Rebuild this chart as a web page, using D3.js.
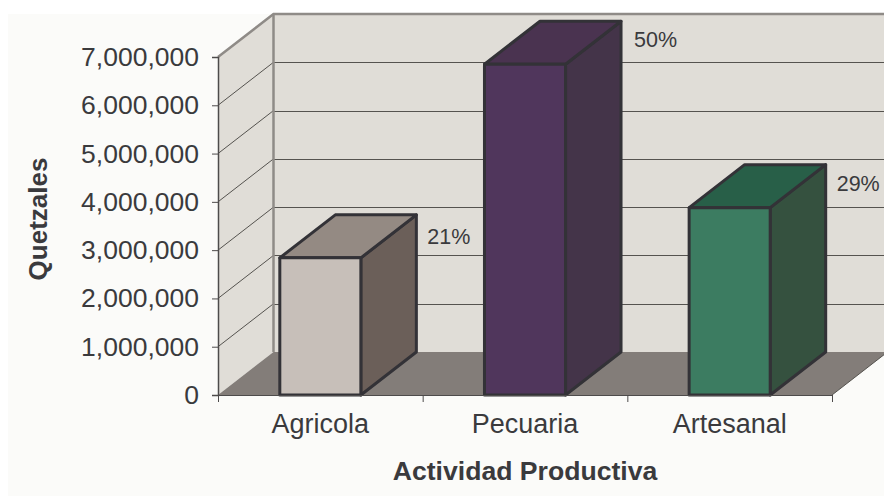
<!DOCTYPE html>
<html>
<head>
<meta charset="utf-8">
<script src="https://cdnjs.cloudflare.com/ajax/libs/d3/7.8.5/d3.min.js"></script>
<style>
html, body { margin: 0; padding: 0; background: #fff; }
svg { display: block; }
text { font-family: "Liberation Sans", Arial, sans-serif; fill: #3a3a3d; }
</style>
</head>
<body>
<div id="chart"></div>
<script>
const categories = ["Agricola", "Pecuaria", "Artesanal"];
const values = [2840000, 6850000, 3880000];
const shares = ["21%", "50%", "29%"];
const yTicks = [0, 1000000, 2000000, 3000000, 4000000, 5000000, 6000000, 7000000];
const frontColors = ["#c7bfb9", "#50365c", "#3c7c61"];
const topColors = ["#948a83", "#4a3350", "#285f48"];
const sideColors = ["#6b5f59", "#443449", "#35513f"];
const shareDx = [11, 13, 11];
const shareDy = [29, 26, 26];

const width = 884, height = 497;
const depthX = 55.5, depthY = -43;

const svg = d3.select("#chart")
  .append("svg")
    .attr("width", width)
    .attr("height", height);

svg.append("rect")
    .attr("x", 8)
    .attr("y", 14)
    .attr("width", width - 8)
    .attr("height", height - 15)
    .attr("fill", "#fbfbf9");

const x = d3.scaleBand()
  .domain(categories)
  .range([218, 832])
  .paddingInner(0.604)
  .paddingOuter(0.302);

const xEdges = d3.scaleLinear()
  .domain([0, categories.length])
  .range([218, 832]);

const y = d3.scaleLinear()
  .domain([0, 7000000])
  .range([395, 57]);

const poly = pts => pts.map(p => p.join(",")).join(" ");
const x0 = xEdges(0), x1 = xEdges(3), yBase = y(0), yTop = y(7000000);

// walls and floor
svg.append("polygon")
    .attr("points", poly([[x0, yBase], [x0, yTop], [x0 + depthX, yTop + depthY], [x0 + depthX, yBase + depthY]]))
    .attr("fill", "#e0ddd7");
svg.append("polygon")
    .attr("points", poly([[x0 + depthX, yBase + depthY], [x0 + depthX, yTop + depthY], [x1 + depthX, yTop + depthY], [x1 + depthX, yBase + depthY]]))
    .attr("fill", "#e0ddd7");
svg.append("polygon")
    .attr("points", poly([[x0, yBase], [x0 + depthX, yBase + depthY], [x1 + depthX, yBase + depthY], [x1, yBase]]))
    .attr("fill", "#837d79");
svg.append("line")
    .attr("x1", x1)
    .attr("x2", x1 + depthX)
    .attr("y1", yBase)
    .attr("y2", yBase + depthY)
    .attr("stroke", "#55534f");

// gridlines
const gridTicks = yTicks.filter(d => d > 0 && d < 7000000);
svg.selectAll(".grid-back")
  .data(gridTicks)
  .join("line")
    .attr("x1", x0 + depthX)
    .attr("x2", x1 + depthX)
    .attr("y1", d => Math.round(y(d) + depthY) + 0.5)
    .attr("y2", d => Math.round(y(d) + depthY) + 0.5)
    .attr("stroke", "#55534f");
svg.selectAll(".grid-side")
  .data(gridTicks)
  .join("line")
    .attr("x1", x0)
    .attr("x2", x0 + depthX)
    .attr("y1", d => y(d))
    .attr("y2", d => y(d) + depthY)
    .attr("stroke", "#55534f");

// wall edges
svg.append("polyline")
    .attr("points", poly([[x0, yTop], [x0 + depthX, yTop + depthY], [x1 + depthX, yTop + depthY]]))
    .attr("fill", "none")
    .attr("stroke", "#8f8b87")
    .attr("stroke-width", 2.5);
svg.append("line")
    .attr("x1", x0 + depthX)
    .attr("x2", x0 + depthX)
    .attr("y1", yTop + depthY)
    .attr("y2", yBase + depthY)
    .attr("stroke", "#8f8b87")
    .attr("stroke-width", 2.5);

// bars
const bars = svg.selectAll(".bar")
  .data(categories)
  .join("g")
    .attr("stroke", "#333237")
    .attr("stroke-width", 3)
    .attr("stroke-linejoin", "round");

bars.append("polygon")
    .attr("points", (d, i) => {
      const r = x(d) + x.bandwidth();
      return poly([[r, yBase], [r, y(values[i])], [r + depthX, y(values[i]) + depthY], [r + depthX, yBase + depthY]]);
    })
    .attr("fill", (d, i) => sideColors[i]);
bars.append("polygon")
    .attr("points", (d, i) => {
      const l = x(d), r = l + x.bandwidth(), t = y(values[i]);
      return poly([[l, t], [l + depthX, t + depthY], [r + depthX, t + depthY], [r, t]]);
    })
    .attr("fill", (d, i) => topColors[i]);
bars.append("rect")
    .attr("x", d => x(d))
    .attr("y", (d, i) => y(values[i]))
    .attr("width", x.bandwidth())
    .attr("height", (d, i) => yBase - y(values[i]))
    .attr("fill", (d, i) => frontColors[i]);

// share labels
svg.selectAll(".share")
  .data(categories)
  .join("text")
    .attr("x", (d, i) => x(d) + x.bandwidth() + depthX + shareDx[i])
    .attr("y", (d, i) => y(values[i]) + depthY + shareDy[i])
    .style("font-size", "21.5px")
    .text((d, i) => shares[i]);

// axes
const yAxis = svg.append("g")
    .attr("transform", `translate(${x0},0)`)
    .call(d3.axisLeft(y).tickValues(yTicks).tickSize(6).tickPadding(13).tickFormat(d3.format(",")));
yAxis.selectAll("text").style("font-size", "26.5px");

const xTicks = svg.append("g")
    .attr("transform", `translate(0,${yBase})`)
    .call(d3.axisBottom(xEdges).tickValues([0, 1, 2, 3]).tickSize(7).tickFormat(""));

const xAxis = svg.append("g")
    .attr("transform", `translate(0,${yBase})`)
    .call(d3.axisBottom(x).tickSize(0).tickPadding(19));
xAxis.select(".domain").remove();
xAxis.selectAll("text").style("font-size", "27px");

[yAxis, xTicks].forEach(g => {
  g.selectAll("path, line").attr("stroke", "#4d4b4b");
});
yAxis.select(".domain").attr("stroke-width", 1.5);
svg.selectAll(".tick text").attr("fill", "#3a3a3d");

// titles
svg.append("text")
    .attr("x", 525)
    .attr("y", 480)
    .attr("text-anchor", "middle")
    .style("font-size", "26.6px")
    .style("font-weight", "bold")
    .text("Actividad Productiva");

svg.append("text")
    .attr("transform", "translate(47,219) rotate(-90)")
    .attr("text-anchor", "middle")
    .style("font-size", "26px")
    .style("font-weight", "bold")
    .text("Quetzales");
</script>
</body>
</html>
